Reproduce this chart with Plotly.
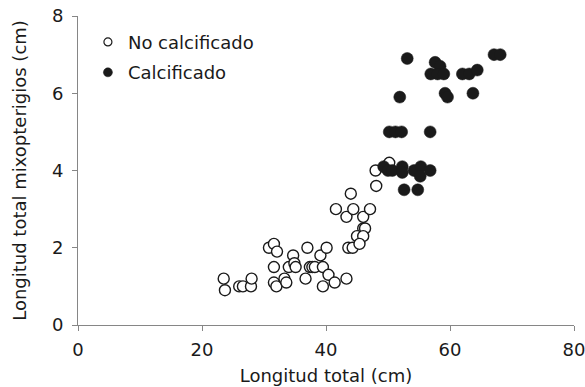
import plotly.graph_objects as go

# No calcificado (open circles)
nc_x = [23.5, 23.7, 26.0, 26.6, 27.9, 28.0,
        30.8, 31.6, 32.1, 31.6, 31.6, 32.0, 33.3, 33.6, 34.0, 34.7, 34.9, 35.1,
        37.0, 36.7, 37.4, 37.8, 38.2, 39.1, 40.1, 39.5, 40.4, 39.5, 41.4, 43.3,
        41.6, 44.0, 48.1, 43.3, 44.4, 46.0, 47.1, 46.0, 46.3, 45.0, 46.0, 43.6,
        44.3, 45.4, 48.0, 50.2]
nc_y = [1.2, 0.9, 1.0, 1.0, 1.0, 1.2,
        2.0, 2.1, 1.9, 1.5, 1.1, 1.0, 1.2, 1.1, 1.5, 1.8, 1.6, 1.5,
        2.0, 1.2, 1.5, 1.5, 1.5, 1.8, 2.0, 1.5, 1.3, 1.0, 1.1, 1.2,
        3.0, 3.4, 3.6, 2.8, 3.0, 2.8, 3.0, 2.5, 2.5, 2.3, 2.3, 2.0,
        2.0, 2.1, 4.0, 4.2]

# Calcificado (filled circles)
c_x = [53.1, 57.6, 58.4, 56.9, 58.0, 59.0, 62.0, 63.1, 64.4, 67.1, 68.1,
       59.2, 59.6, 63.7, 51.9,
       50.2, 51.2, 52.2, 56.8,
       49.3, 50.0, 50.7, 52.3, 52.3, 54.2, 55.3, 55.2, 56.8, 52.6, 54.8]
c_y = [6.9, 6.8, 6.7, 6.5, 6.5, 6.5, 6.5, 6.5, 6.6, 7.0, 7.0,
       6.0, 5.9, 6.0, 5.9,
       5.0, 5.0, 5.0, 5.0,
       4.1, 4.0, 4.0, 4.1, 3.95, 4.0, 4.1, 3.85, 4.0, 3.5, 3.5]

x_ticks = [0, 20, 40, 60, 80]
y_ticks = [0, 2, 4, 6, 8]

INK = "#1a1a1a"
FONT = "DejaVu Sans"
FS = 18

fig = go.Figure()
fig.add_trace(go.Scatter(
    x=nc_x, y=nc_y, mode="markers", showlegend=False,
    marker=dict(symbol="circle", size=11, color="white",
                line=dict(color=INK, width=1.4)),
))
fig.add_trace(go.Scatter(
    x=c_x, y=c_y, mode="markers", showlegend=False,
    marker=dict(symbol="circle", size=12, color=INK,
                line=dict(color=INK, width=0.5)),
))
# legend entries
fig.add_trace(go.Scatter(
    x=[None], y=[None], mode="markers", name="No calcificado",
    legendgroup="a",
    marker=dict(symbol="circle", size=8, color="white",
                line=dict(color=INK, width=1.2)),
))
fig.add_trace(go.Scatter(
    x=[None], y=[None], mode="markers", name="Calcificado",
    legendgroup="b",
    marker=dict(symbol="circle", size=9, color=INK,
                line=dict(color=INK, width=0.5)),
))

axis_common = dict(
    showgrid=False, zeroline=False, showline=True, linecolor="#868686",
    linewidth=1, ticks="outside", ticklen=5, tickcolor="#868686",
    tickfont=dict(family=FONT, size=FS, color=INK),
    title_font=dict(family=FONT, size=FS, color=INK),
    automargin=False, ticklabeloverflow="allow",
)

fig.update_layout(
    width=585, height=387,
    margin=dict(l=78, r=11, t=16, b=62, autoexpand=False),
    paper_bgcolor="white", plot_bgcolor="white",
    font=dict(family=FONT, size=FS, color=INK),
    xaxis=dict(range=[0, 80], tickvals=x_ticks, title_text="Longitud total (cm)",
               title_standoff=10, ticklabelstandoff=3, **axis_common),
    yaxis=dict(range=[0, 8], tickvals=y_ticks,
               title_text="Longitud total mixopterigios (cm)",
               title_standoff=20, ticklabelstandoff=5, **axis_common),
    legend=dict(x=0.02, y=0.975, xanchor="left", yanchor="top",
                traceorder="grouped", tracegroupgap=4,
                font=dict(family=FONT, size=FS, color=INK),
                bgcolor="rgba(0,0,0,0)", itemwidth=30),
)

fig.write_html("out.html")
